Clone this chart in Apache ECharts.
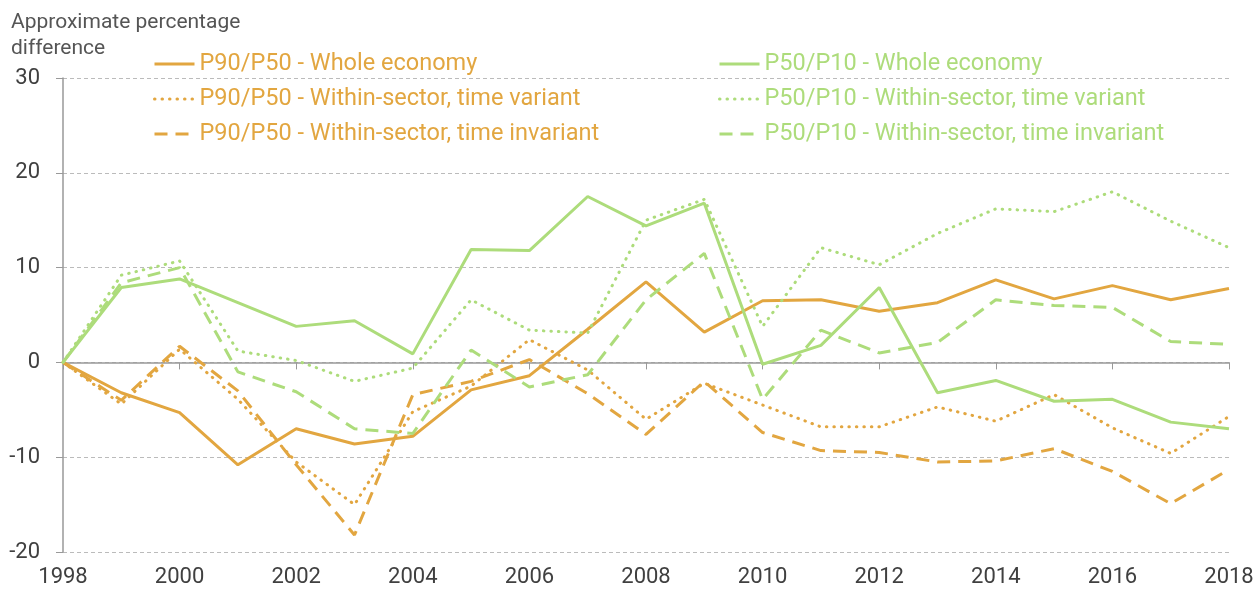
<!DOCTYPE html>
<html>
<head>
<meta charset="utf-8">
<script src="https://cdn.jsdelivr.net/npm/echarts@6/dist/echarts.min.js"></script>
<style>
  html, body { margin: 0; padding: 0; background: #fff; }
  #chart { width: 1256px; height: 589px; }
</style>
</head>
<body>
<div id="chart"></div>
<script>
  // years on the x axis
  var years = [1998, 1999, 2000, 2001, 2002, 2003, 2004, 2005, 2006, 2007, 2008,
               2009, 2010, 2011, 2012, 2013, 2014, 2015, 2016, 2017, 2018];

  // P90/P50 series
  var p90p50Whole     = [0, -3.2, -5.3, -10.8, -7.0, -8.6, -7.8, -2.9, -1.4, 3.5, 8.5, 3.2, 6.5, 6.6, 5.4, 6.3, 8.7, 6.7, 8.1, 6.6, 7.8];
  var p90p50Variant   = [0, -4.4, 1.4, -3.9, -10.5, -15.0, -5.2, -2.5, 2.4, -0.8, -6.0, -2.2, -4.5, -6.8, -6.8, -4.7, -6.2, -3.4, -6.9, -9.6, -5.7];
  var p90p50Invariant = [0, -4.0, 1.7, -3.0, -10.8, -18.2, -3.4, -2.0, 0.3, -3.3, -7.6, -2.0, -7.4, -9.3, -9.5, -10.5, -10.4, -9.1, -11.5, -14.9, -11.3];

  // P50/P10 series
  var p50p10Whole     = [0, 7.9, 8.8, 6.3, 3.8, 4.4, 0.9, 11.9, 11.8, 17.5, 14.4, 16.8, -0.2, 1.8, 7.9, -3.2, -1.9, -4.1, -3.9, -6.3, -7.0];
  var p50p10Variant   = [0, 9.2, 10.7, 1.2, 0.2, -2.0, -0.6, 6.6, 3.4, 3.1, 15.0, 17.2, 3.8, 12.1, 10.3, 13.6, 16.2, 15.9, 18.0, 14.9, 12.1];
  var p50p10Invariant = [0, 8.4, 10.0, -1.0, -3.1, -7.0, -7.5, 1.3, -2.6, -1.3, 6.6, 11.5, -3.9, 3.4, 1.0, 2.1, 6.6, 6.0, 5.8, 2.2, 1.9];

  var seriesNames = [
    'P90/P50 - Whole economy',
    'P90/P50 - Within-sector, time variant',
    'P90/P50 - Within-sector, time invariant',
    'P50/P10 - Whole economy',
    'P50/P10 - Within-sector, time variant',
    'P50/P10 - Within-sector, time invariant'
  ];
  var seriesData = [p90p50Whole, p90p50Variant, p90p50Invariant, p50p10Whole, p50p10Variant, p50p10Invariant];

  var orange = '#E2A640';
  var green = '#ADDC7B';
  var fontFamily = 'Roboto, "Noto Sans", sans-serif';

  function lineType(i) {
    var k = i % 3;
    if (k === 0) return 'solid';
    if (k === 1) return [0.5, 7];
    return [13, 8];
  }

  function pairs(arr) {
    return arr.map(function (v, i) { return [years[i], v]; });
  }

  var series = [];
  for (var i = 0; i < seriesData.length; i++) {
    var c = i < 3 ? orange : green;
    series.push({
      name: seriesNames[i],
      type: 'line',
      xAxisIndex: 0,
      data: pairs(seriesData[i]),
      symbol: 'none',
      lineStyle: {
        color: c,
        width: 3,
        type: lineType(i),
        cap: i % 3 === 1 ? 'round' : 'butt'
      },
      itemStyle: { color: c }
    });
  }

  function makeLegend(left, names, color) {
    return {
      orient: 'vertical',
      left: left,
      top: 47,
      padding: 5,
      itemWidth: 40,
      itemHeight: 14,
      itemGap: 11,
      data: names,
      itemStyle: { opacity: 0, borderWidth: 0 },
      lineStyle: { width: 3 },
      textStyle: { color: color, fontSize: 23.5, lineHeight: 24, fontFamily: fontFamily }
    };
  }

  var myChart = echarts.init(document.getElementById('chart'));

  myChart.setOption({
    animation: false,
    textStyle: { fontFamily: fontFamily },
    grid: {
      left: 63,
      right: 27,
      top: 78,
      bottom: 37,
      outerBoundsMode: 'none'
    },
    graphic: [{
      type: 'text',
      left: 11,
      top: 10,
      style: {
        text: 'Approximate percentage\ndifference',
        fill: '#555',
        font: '21px ' + fontFamily,
        lineHeight: 26
      }
    }],
    legend: [
      makeLegend(148, seriesNames.slice(0, 3), orange),
      makeLegend(713, seriesNames.slice(3), green)
    ],
    xAxis: [{
      type: 'value',
      min: 1998,
      max: 2018,
      interval: 2,
      position: 'bottom',
      axisLine: { show: false, onZero: false },
      axisTick: { show: false },
      splitLine: { show: false },
      axisLabel: {
        color: '#404040',
        fontSize: 22,
        margin: 14,
        formatter: function (v) { return String(v); }
      }
    }, {
      type: 'value',
      min: 1998,
      max: 2018,
      interval: 2,
      position: 'top',
      axisLine: { show: true, onZero: true, lineStyle: { color: '#999', width: 1.5 } },
      axisTick: { show: true, inside: true, length: 7, lineStyle: { color: '#999' } },
      splitLine: { show: false },
      axisLabel: { show: false }
    }],
    yAxis: {
      type: 'value',
      min: -20,
      max: 30,
      interval: 10,
      axisLine: { show: true, lineStyle: { color: '#999', width: 1.5 } },
      axisTick: { show: true, length: 7, lineStyle: { color: '#999' } },
      axisLabel: { color: '#404040', fontSize: 22, margin: 23 },
      splitLine: { lineStyle: { color: '#bbb', type: [4, 3] } }
    },
    series: series
  });
</script>
</body>
</html>
